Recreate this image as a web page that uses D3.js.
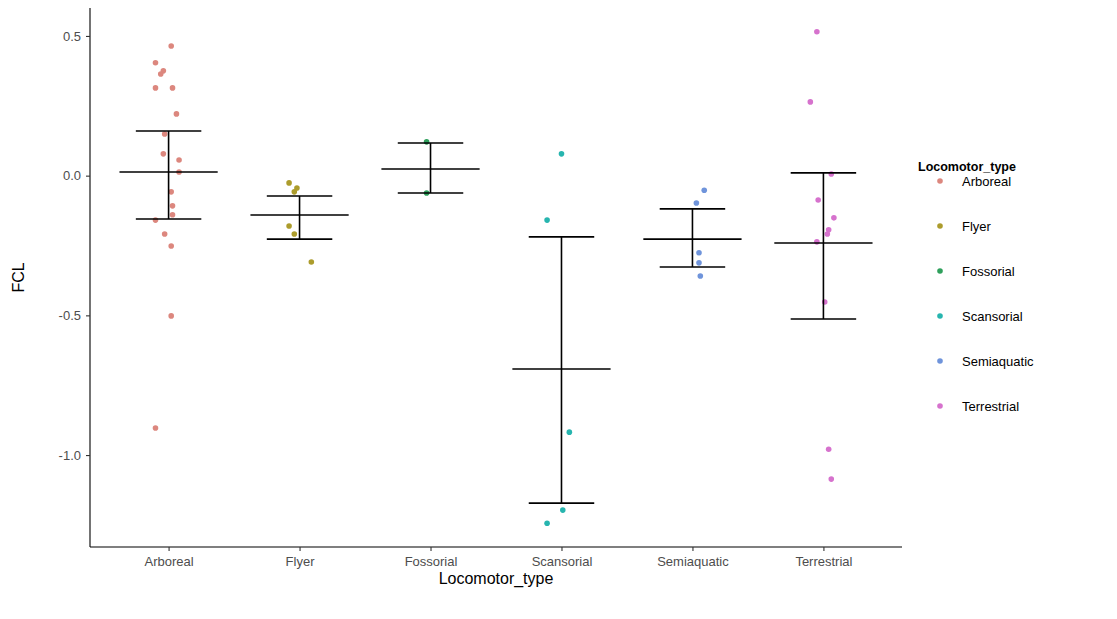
<!DOCTYPE html>
<html>
<head>
<meta charset="utf-8">
<title>FCL by Locomotor_type</title>
<script src="https://cdn.jsdelivr.net/npm/d3@7"></script>
<style>
  body { margin: 0; background: #fff; }
  svg text { font-family: "Liberation Sans", Arial, sans-serif; }
</style>
</head>
<body>
<div id="chart"></div>
<script>
// categories
var types = ["Arboreal", "Flyer", "Fossorial", "Scansorial", "Semiaquatic", "Terrestrial"];
var colours = ["#DC877E", "#AC9C2C", "#2FA05C", "#27B5AF", "#6F94DB", "#D672CD"];

// FCL values, one array per group
var arboreal = [0.464, 0.404, 0.375, 0.364, 0.314, 0.314, 0.221, 0.149, 0.078, 0.056, 0.013,
                -0.058, -0.108, -0.140, -0.159, -0.209, -0.252, -0.502, -0.903];
var flyer = [-0.026, -0.044, -0.058, -0.180, -0.209, -0.309];
var fossorial = [0.121, -0.062];
var scansorial = [0.078, -0.159, -0.918, -1.197, -1.244];
var semiaquatic = [-0.052, -0.098, -0.276, -0.312, -0.359];
var terrestrial = [0.515, 0.264, 0.006, -0.087, -0.151, -0.194, -0.209, -0.237, -0.452, -0.979, -1.086];

// horizontal jitter of each point (in category widths), as seen in the picture
var arborealJit = [0.02, -0.10, -0.04, -0.06, -0.10, 0.03, 0.06, -0.03, -0.04, 0.08, 0.08,
                   0.02, 0.03, 0.03, -0.10, -0.03, 0.02, 0.02, -0.10];
var flyerJit = [-0.08, -0.02, -0.04, -0.08, -0.04, 0.09];
var fossorialJit = [-0.03, -0.03];
var scansorialJit = [0.0, -0.11, 0.06, 0.01, -0.11];
var semiaquaticJit = [0.09, 0.03, 0.05, 0.05, 0.06];
var terrestrialJit = [-0.05, -0.10, 0.06, -0.04, 0.08, 0.04, 0.03, -0.05, 0.01, 0.04, 0.06];

// error bars (mean, lower, upper)
var means = [0.013, -0.141, 0.024, -0.692, -0.227, -0.241];
var lowers = [-0.155, -0.227, -0.062, -1.172, -0.327, -0.513];
var uppers = [0.160, -0.073, 0.117, -0.219, -0.119, 0.010];

var yTicks = [0.5, 0.0, -0.5, -1.0];

var groups = [arboreal, flyer, fossorial, scansorial, semiaquatic, terrestrial];
var jits = [arborealJit, flyerJit, fossorialJit, scansorialJit, semiaquaticJit, terrestrialJit];

var points = [];
groups.forEach(function (g, i) {
  g.forEach(function (v, j) {
    points.push({ type: types[i], value: v, jit: jits[i][j] });
  });
});

var width = 1117, height = 619;
var margin = { top: 8, right: 215, bottom: 72, left: 90 };

var svg = d3.select("#chart").append("svg")
  .attr("width", width)
  .attr("height", height);

var x = d3.scalePoint()
  .domain(types)
  .range([margin.left, width - margin.right])
  .padding(0.6);
var step = x.step();

var y = d3.scaleLinear()
  .domain([-1.329, 0.6])
  .range([height - margin.bottom, margin.top]);

var colour = d3.scaleOrdinal().domain(types).range(colours);

// points
svg.append("g")
  .selectAll("circle")
  .data(points)
  .enter()
  .append("circle")
  .attr("cx", function (d) { return x(d.type) + d.jit * step; })
  .attr("cy", function (d) { return y(d.value); })
  .attr("r", 2.8)
  .attr("fill", function (d) { return colour(d.type); });

// error bars
var bars = svg.append("g").attr("stroke", "#000").attr("stroke-width", 1.6);
types.forEach(function (t, i) {
  var cx = x(t);
  bars.append("line")
    .attr("x1", cx).attr("x2", cx)
    .attr("y1", y(lowers[i])).attr("y2", y(uppers[i]));
  [lowers[i], uppers[i]].forEach(function (v) {
    bars.append("line")
      .attr("x1", cx - 0.25 * step).attr("x2", cx + 0.25 * step)
      .attr("y1", y(v)).attr("y2", y(v));
  });
  bars.append("line")
    .attr("x1", cx - 0.375 * step).attr("x2", cx + 0.375 * step)
    .attr("y1", y(means[i])).attr("y2", y(means[i]));
});

// axes
var xAxis = svg.append("g")
  .attr("transform", "translate(0," + (height - margin.bottom) + ")")
  .call(d3.axisBottom(x).tickSizeOuter(0).tickSize(4).tickPadding(6));
xAxis.select(".domain").attr("d", "M" + margin.left + ",0H" + (width - margin.right));

var yAxis = svg.append("g")
  .attr("transform", "translate(" + margin.left + ",0)")
  .call(d3.axisLeft(y).tickValues(yTicks)
    .tickFormat(function (d) { return d.toFixed(1); })
    .tickSize(4).tickPadding(5).tickSizeOuter(0));
yAxis.select(".domain").attr("d", "M0," + margin.top + "V" + (height - margin.bottom));

[xAxis, yAxis].forEach(function (a) {
  a.select(".domain").attr("stroke", "#000").attr("stroke-width", 1.1);
  a.selectAll(".tick line").attr("stroke", "#333").attr("stroke-width", 1.1);
  a.selectAll(".tick text").attr("fill", "#4d4d4d").style("font-size", "13px");
});

// axis titles
svg.append("text")
  .attr("x", (margin.left + width - margin.right) / 2)
  .attr("y", 584)
  .attr("text-anchor", "middle")
  .style("font-size", "16px")
  .attr("fill", "#000")
  .text("Locomotor_type");

svg.append("text")
  .attr("transform", "translate(24," + ((margin.top + height - margin.bottom) / 2) + ") rotate(-90)")
  .attr("text-anchor", "middle")
  .style("font-size", "16px")
  .attr("fill", "#000")
  .text("FCL");

// legend
var legend = svg.append("g").attr("transform", "translate(918,0)");
legend.append("text")
  .attr("x", 0).attr("y", 171)
  .style("font-size", "12.5px")
  .style("font-weight", "bold")
  .text("Locomotor_type");

var items = legend.selectAll(".item")
  .data(types)
  .enter()
  .append("g")
  .attr("class", "item")
  .attr("transform", function (d, i) { return "translate(0," + (181 + i * 45) + ")"; });
items.append("circle")
  .attr("cx", 22).attr("cy", 0).attr("r", 2.8)
  .attr("fill", function (d) { return colour(d); });
items.append("text")
  .attr("x", 44).attr("y", 5)
  .style("font-size", "13px")
  .attr("fill", "#000")
  .text(function (d) { return d; });
</script>
</body>
</html>
